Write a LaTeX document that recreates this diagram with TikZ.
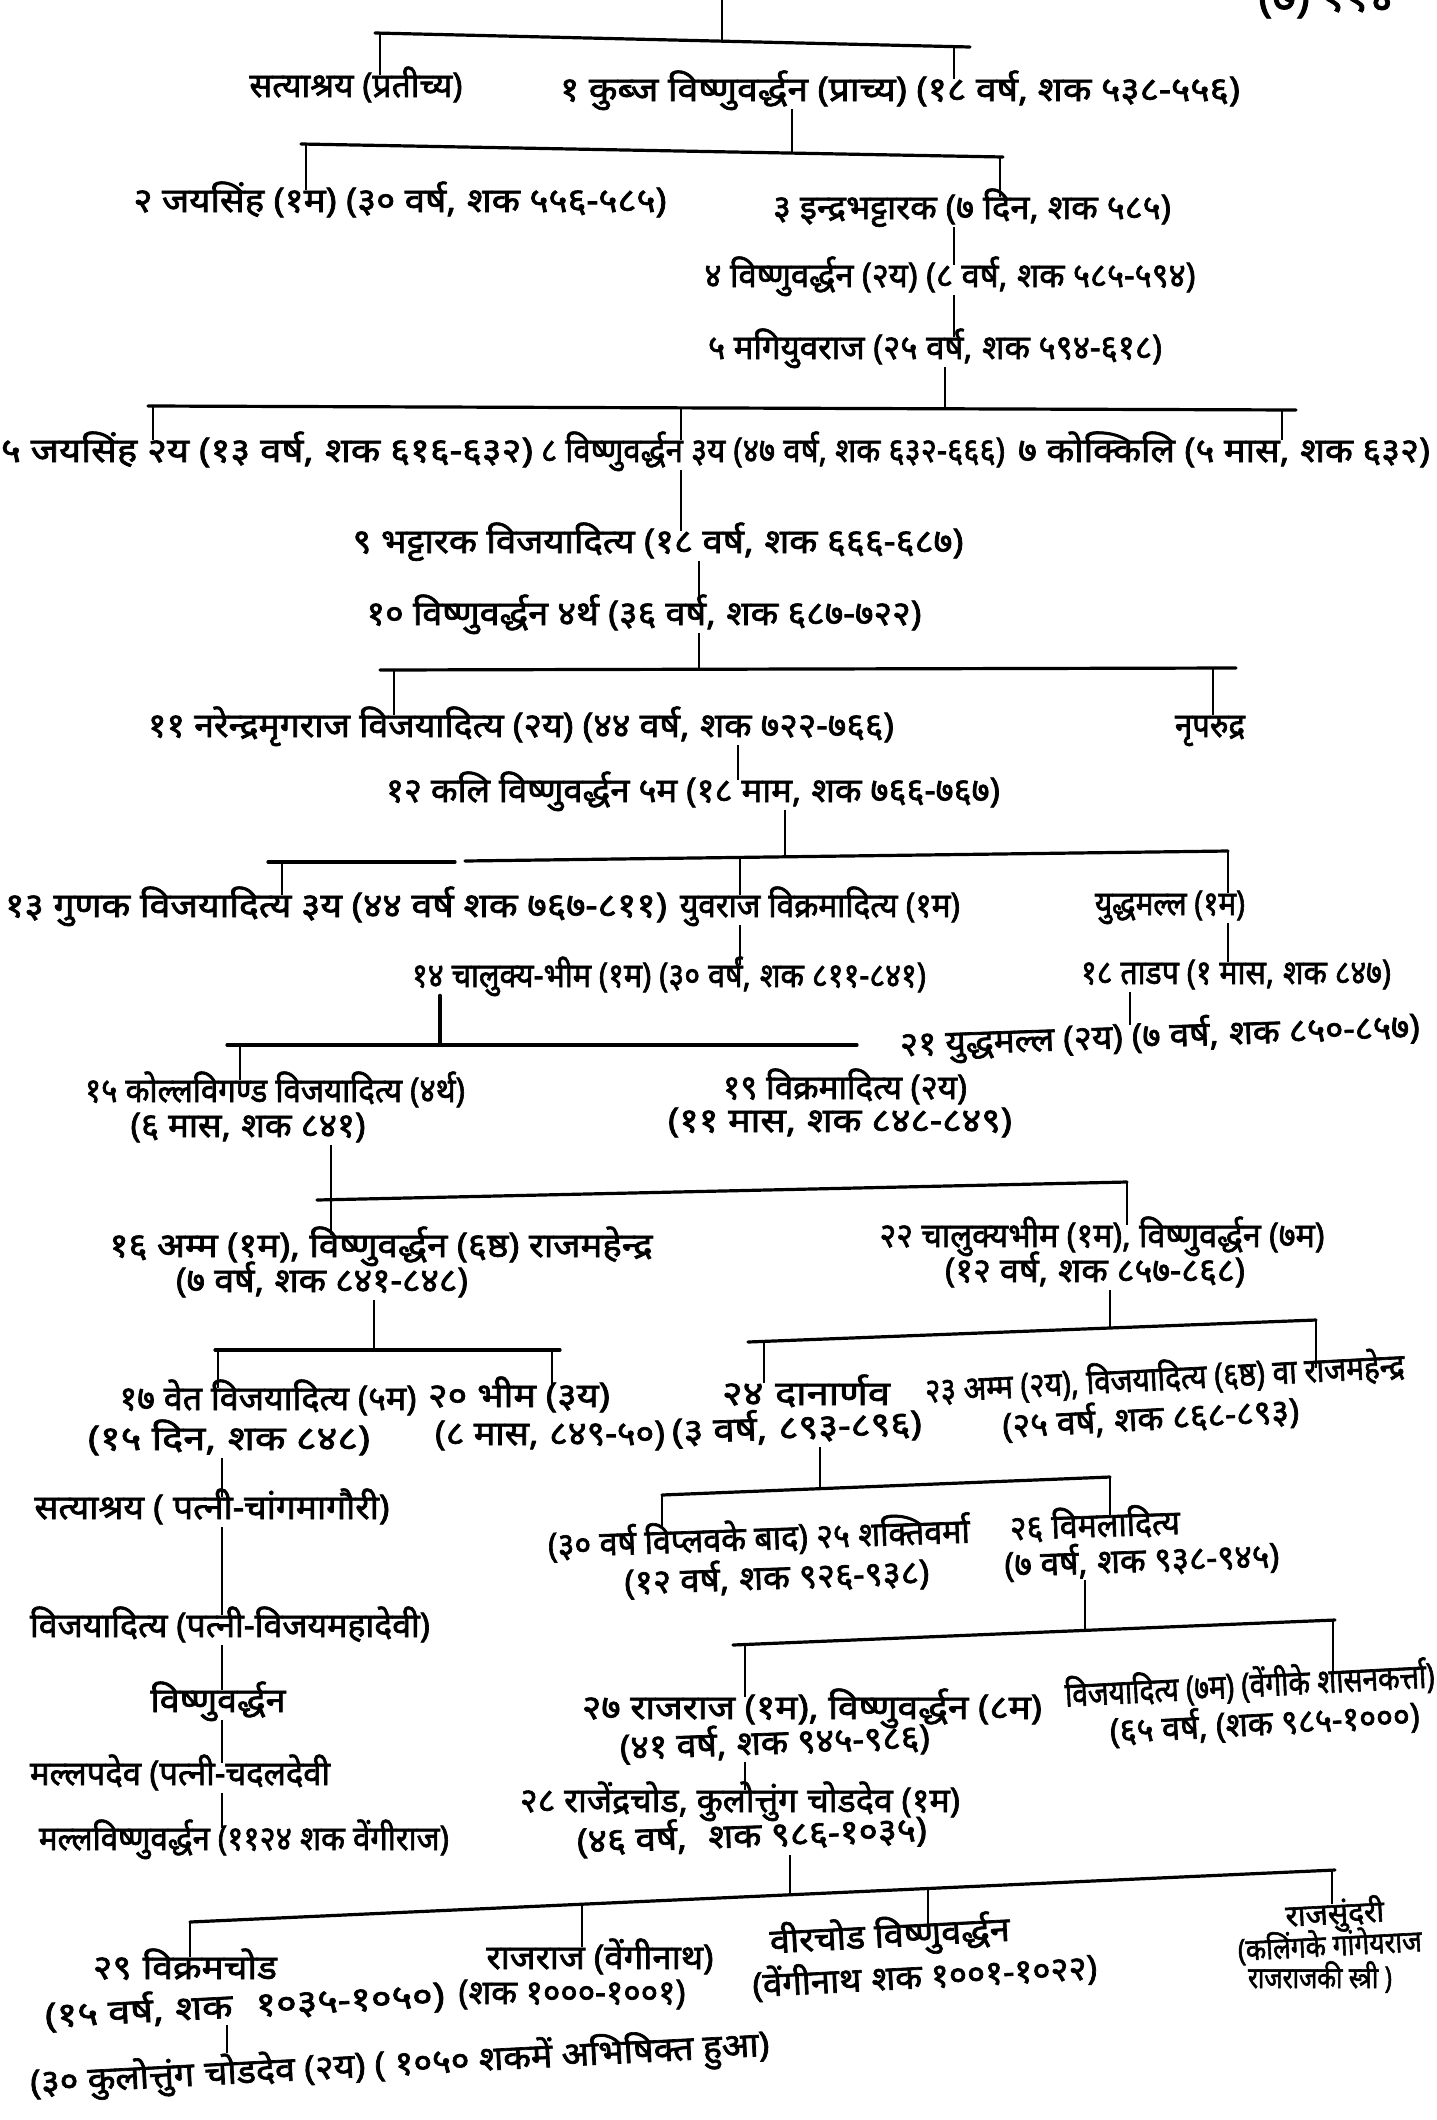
\documentclass[tikz,border=0pt]{standalone}
\usepackage{fontspec}
\usepackage{graphicx}
\newfontfamily\dev[Script=Devanagari,FakeBold=2]{Noto Sans}
\newcommand\fw[2]{\resizebox{#1pt}{\height}{#2}}
\newcommand\gp{\hspace{5pt}}
\begin{document}
\begin{tikzpicture}[x=0.5pt,y=-0.5pt,
  lbl/.style={font=\dev\fontsize{17}{20}\selectfont, inner sep=0pt, text height=11pt, text depth=4pt},
  sml/.style={font=\dev\fontsize{15}{18}\selectfont, inner sep=0pt, text height=10pt, text depth=4pt},
  bar/.style={line width=1.6pt, line cap=round},
  ln/.style={line width=0.9pt}]
\useasboundingbox (0,0) rectangle (1436,2120);
\fill[white] (0,0) rectangle (1436,2120);
% ---------- labels
\node[lbl,font=\dev\fontsize{23}{26}\selectfont] (t0) at (1326,4) {(७) ११४};
\node[lbl] (n1a) at (356,90) {\fw{106.5}{सत्याश्रय (प्रतीच्य)}};
\node[lbl] (n1b) at (900,94) {\fw{340}{१ कुब्ज विष्णुवर्द्धन (प्राच्य) (१८ वर्ष, शक ५३८-५५६)}};
\node[lbl] (n2a) at (400,205) {\fw{266.5}{२ जयसिंह (१म) (३० वर्ष,\gp शक ५५६-५८५)}};
\node[lbl] (n2b) at (972,212) {\fw{199}{३ इन्द्रभट्टारक (७ दिन, शक ५८५)}};
\node[lbl] (n3) at (950,280) {\fw{245.5}{४ विष्णुवर्द्धन (२य) (८ वर्ष,\gp शक ५८५-५९४)}};
\node[lbl] (n4) at (935,352) {\fw{227}{५ मगियुवराज (२५ वर्ष,\gp शक ५९४-६१८)}};
\node[lbl] (n5a) at (267,455) {\fw{266}{५ जयसिंह २य (१३ वर्ष,\gp शक ६१६-६३२)}};
\node[lbl] (n5b) at (773,455) {\fw{232}{८ विष्णुवर्द्धन ३य (४७ वर्ष, शक ६३२-६६६)}};
\node[lbl] (n5c) at (1224,455) {\fw{206}{७ कोक्किलि (५ मास,\gp शक ६३२)}};
\node[lbl] (n6) at (658,546) {\fw{305.5}{९ भट्टारक विजयादित्य (१८ वर्ष,\gp शक ६६६-६८७)}};
\node[lbl] (n7) at (644,618) {\fw{277.5}{१० विष्णुवर्द्धन ४र्थ (३६ वर्ष,\gp शक ६८७-७२२)}};
\node[lbl] (n8a) at (521,730) {\fw{373}{११ नरेन्द्रमृगराज विजयादित्य (२य) (४४ वर्ष,\gp शक ७२२-७६६)}};
\node[lbl] (n8b) at (1210,730) {\fw{35}{नृपरुद्र}};
\node[lbl] (n9) at (693,795) {\fw{307}{१२ कलि विष्णुवर्द्धन ५म (१८ माम,\gp शक ७६६-७६७)}};
\node[lbl] (n10a) at (336,910) {\fw{331}{१३ गुणक विजयादित्य ३य (४४ वर्ष शक ७६७-८११)}};
\node[lbl] (n10b) at (820,910) {\fw{140}{युवराज विक्रमादित्य (१म)}};
\node[lbl] (n10c) at (1170,908) {\fw{75}{युद्धमल्ल (१म)}};
\node[lbl] (n11a) at (669,980) {\fw{257}{१४ चालुक्य-भीम (१म) (३० वर्ष,\gp शक ८११-८४१)}};
\node[lbl] (n11b) at (1236,977) {\fw{155}{१८ ताडप (१ मास,\gp शक ८४७)}};
\node[lbl,rotate=2] (n21) at (1160,1040) {\fw{260}{२१ युद्धमल्ल (२य) (७ वर्ष,\gp शक ८५०-८५७)}};
\node[lbl] (n12a1) at (275,1095) {\fw{190}{१५ कोल्लविगण्ड विजयादित्य (४र्थ)}};
\node[lbl] (n12a2) at (248,1130) {\fw{117.5}{(६ मास,\gp शक ८४१)}};
\node[lbl] (n12b1) at (845,1092) {\fw{122}{१९ विक्रमादित्य (२य)}};
\node[lbl] (n12b2) at (840,1125) {\fw{172}{(११ मास,\gp शक ८४८-८४९)}};
\node[lbl] (n13a1) at (381,1250) {\fw{271.5}{१६ अम्म (१म), विष्णुवर्द्धन (६ष्ठ) राजमहेन्द्र}};
\node[lbl] (n13a2) at (322,1285) {\fw{146}{(७ वर्ष,\gp शक ८४१-८४८)}};
\node[lbl] (n13b1) at (1102,1240) {\fw{222.5}{२२ चालुक्यभीम (१म), विष्णुवर्द्धन (७म)}};
\node[lbl] (n13b2) at (1095,1275) {\fw{150}{(१२ वर्ष,\gp शक ८५७-८६८)}};
\node[lbl] (n14a1) at (268,1403) {\fw{148.5}{१७ वेत विजयादित्य (५म)}};
\node[lbl] (n14b1) at (519,1400) {\fw{91}{२० भीम (३य)}};
\node[lbl] (n14c1) at (806,1398) {\fw{84}{२४\gp दानार्णव}};
\node[lbl,rotate=3] (n14d1) at (1165,1383) {\fw{240}{२३ अम्म (२य), विजयादित्य (६ष्ठ) वा राजमहेन्द्र}};
\node[lbl] (n14a2) at (229,1443) {\fw{141}{(१५ दिन,\gp शक ८४८)}};
\node[lbl] (n14b2) at (550,1438) {\fw{115}{(८ मास,\gp ८४९-५०)}};
\node[lbl,rotate=2] (n14c2) at (797,1432) {\fw{125}{(३ वर्ष,\gp ८९३-८९६)}};
\node[lbl,rotate=3] (n14d2) at (1151,1423) {\fw{148.5}{(२५ वर्ष,\gp शक ८६८-८९३)}};
\node[lbl] (n15) at (212,1512) {\fw{177.5}{सत्याश्रय ( पत्नी-चांगमागौरी)}};
\node[lbl,rotate=2] (n16a1) at (759,1543) {\fw{211}{(३० वर्ष विप्लवके बाद) २५ शक्तिवर्मा}};
\node[lbl,rotate=2] (n16a2) at (777,1582) {\fw{152.5}{(१२ वर्ष,\gp शक ९२६-९३८)}};
\node[lbl,rotate=2] (n16b1) at (1095,1530) {\fw{85}{२६ विमलादित्य}};
\node[lbl,rotate=2] (n16b2) at (1142,1565) {\fw{137.5}{(७ वर्ष,\gp शक ९३८-९४५)}};
\node[lbl] (n17) at (230,1630) {\fw{200}{विजयादित्य (पत्नी-विजयमहादेवी)}};
\node[lbl] (n18) at (218,1705) {\fw{67.5}{विष्णुवर्द्धन}};
\node[lbl] (n18a1) at (812,1712) {\fw{230}{२७ राजराज (१म), विष्णुवर्द्धन (८म)}};
\node[lbl,rotate=3] (n18b1) at (1250,1690) {\fw{185}{विजयादित्य (७म) (वेंगीके शासनकर्त्ता)}};
\node[lbl,rotate=2] (n18a2) at (775,1747) {\fw{155}{(४१ वर्ष,\gp शक ९४५-९८६)}};
\node[lbl,rotate=3] (n18b2) at (1265,1728) {\fw{155}{(६५ वर्ष, (शक ९८५-१०००)}};
\node[lbl] (n19) at (180,1778) {\fw{150}{मल्लपदेव (पत्नी-चदलदेवी}};
\node[lbl] (n19a1) at (740,1805) {\fw{220}{२८ राजेंद्रचोड, कुलोत्तुंग\gp चोडदेव (१म)}};
\node[lbl,rotate=2] (n19a2) at (752,1840) {\fw{175}{(४६ वर्ष,\gp\gp शक ९८६-१०३५)}};
\node[lbl] (n20) at (244,1843) {\fw{205}{मल्लविष्णुवर्द्धन (११२४ शक वेंगीराज)}};
\node[lbl] (n21a1) at (185,1972) {\fw{92}{२९\gp विक्रमचोड}};
\node[lbl,rotate=3] (n21a2) at (245,2010) {\fw{200}{(१५ वर्ष,\gp शक\gp\gp १०३५-१०५०)}};
\node[lbl] (n21b1) at (600,1962) {\fw{113.5}{राजराज (वेंगीनाथ)}};
\node[lbl] (n21b2) at (572,1997) {\fw{113.5}{(शक १०००-१००१)}};
\node[lbl,rotate=3] (n21c1) at (890,1940) {\fw{120}{वीरचोड विष्णुवर्द्धन}};
\node[lbl,rotate=3] (n21c2) at (925,1981) {\fw{172.5}{(वेंगीनाथ\gp शक १००१-१०२२)}};
\node[sml,rotate=3] (n21d1) at (1335,1918) {राजसुंदरी};
\node[sml,rotate=3] (n21d2) at (1330,1950) {\fw{92}{(कलिंगके गांगेयराज}};
\node[sml] (n21d3) at (1320,1982) {\fw{72}{राजराजकी स्त्री )}};
\node[lbl,rotate=3] (n22) at (400,2068) {\fw{370}{(३० कुलोत्तुंग\gp चोडदेव (२य) ( १०५० शकमें अभिषिक्त हुआ)}};
% ---------- junction coordinates
\coordinate (A0) at (722,0);   \coordinate (Aj) at (722,41);
\coordinate (Al) at (375,33);  \coordinate (Ar) at (970,47);
\coordinate (Ad1) at (380,33); \coordinate (Ad2) at (954,47);
\coordinate (Bj) at (792,153); \coordinate (Bl) at (301,144); \coordinate (Br) at (1003,157);
\coordinate (Bd1) at (306,144); \coordinate (Bd2) at (1000,157);
\coordinate (X954) at (954,0);
\coordinate (Cj) at (945,409); \coordinate (Cl) at (148,406); \coordinate (Cr) at (1296,410);
\coordinate (Cd1) at (153,406); \coordinate (Cd2) at (681,408); \coordinate (Cd3) at (1282,410);
\coordinate (X681) at (681,0); \coordinate (X699) at (699,0);
\coordinate (Dj) at (699,669); \coordinate (Dl) at (380,670); \coordinate (Dr) at (1236,668);
\coordinate (Dd1) at (394,670); \coordinate (Dd2) at (1213,668);
\coordinate (X738) at (738,0);
\coordinate (El1) at (268,862); \coordinate (Er1) at (455,862);
\coordinate (El2) at (465,861); \coordinate (Er2) at (1228,851);
\coordinate (Ej) at (785,857); \coordinate (Ed1) at (282,862); \coordinate (Ed2) at (740,858); \coordinate (Ed3) at (1228,851);
\coordinate (X740) at (740,0); \coordinate (X1228) at (1228,0); \coordinate (X1130) at (1130,0);
\coordinate (Fl) at (227,1045); \coordinate (Fr) at (857,1045); \coordinate (Fj) at (440,1045); \coordinate (Fd1) at (240,1045);
\coordinate (Gl) at (317,1200); \coordinate (Gr) at (1127,1182); \coordinate (Gj) at (331,1200);
\coordinate (Hl) at (215,1350); \coordinate (Hr) at (560,1350); \coordinate (Hj) at (374,1350);
\coordinate (Hd1) at (218,1350); \coordinate (Hd2) at (552,1350);
\coordinate (Il) at (748,1342); \coordinate (Ir) at (1316,1320); \coordinate (Ij) at (1110,1328);
\coordinate (Id1) at (764,1341);
\coordinate (X222) at (222,0);
\coordinate (Jl) at (662,1495); \coordinate (Jr) at (1110,1477); \coordinate (Jj) at (820,1489);
\coordinate (Kl) at (733,1645); \coordinate (Kr) at (1335,1620); \coordinate (Kj) at (1085,1630);
\coordinate (Kd1) at (745,1645); \coordinate (Kd2) at (1333,1620);
\coordinate (X745) at (745,0);
\coordinate (Ll) at (190,1922); \coordinate (Lr) at (1335,1870); \coordinate (Lj) at (790,1895);
\coordinate (Ld2) at (582,1904); \coordinate (Ld3) at (928,1888); \coordinate (Ld4) at (1332,1870);
\coordinate (X227) at (227,0);
% ---------- bars
\draw[bar] (Al) -- (Ar);
\draw[bar] (Bl) -- (Br);
\draw[bar] (Cl) -- (Cr);
\draw[bar] (Dl) -- (Dr);
\draw[bar] (El1) -- (Er1);
\draw[bar] (El2) -- (Er2);
\draw[bar] (Fl) -- (Fr);
\draw[bar] (Gl) -- (Gr);
\draw[bar] (Hl) -- (Hr);
\draw[bar] (Il) -- (Ir);
\draw[bar] (Jl) -- (Jr);
\draw[bar] (Kl) -- (Kr);
\draw[bar] (Ll) -- (Lr);
% ---------- stems and drops
\draw[ln] (A0) -- (Aj);
\draw[ln] (Ad1) -- (Ad1 |- n1a.north);
\draw[ln] (Ad2) -- (Ad2 |- n1b.north);
\draw[ln] (n1b.south -| Bj) -- (Bj);
\draw[ln] (Bd1) -- (Bd1 |- n2a.north);
\draw[ln] (Bd2) -- (Bd2 |- n2b.north);
\draw[ln] (n2b.south -| X954) -- (n3.north -| X954);
\draw[ln] (n3.south -| X954) -- (n4.north -| X954);
\draw[ln] (n4.south -| Cj) -- (Cj);
\draw[ln] (Cd1) -- (Cd1 |- n5a.north);
\draw[ln] (Cd2) -- (Cd2 |- n5b.north);
\draw[ln] (Cd3) -- (Cd3 |- n5c.north);
\draw[ln] (n5b.south -| X681) -- (n6.north -| X681);
\draw[ln] (n6.south -| X699) -- (n7.north -| X699);
\draw[ln] (n7.south -| Dj) -- (Dj);
\draw[ln] (Dd1) -- (Dd1 |- n8a.north);
\draw[ln] (Dd2) -- (Dd2 |- n8b.north);
\draw[ln] (n8a.south -| X738) -- (n9.north -| X738);
\draw[ln] (n9.south -| Ej) -- (Ej);
\draw[ln] (Ed1) -- (Ed1 |- n10a.north);
\draw[ln] (Ed2) -- (Ed2 |- n10b.north);
\draw[ln] (Ed3) -- (Ed3 |- n10c.north);
\draw[ln] (n10b.south -| X740) -- (n11a.north -| X740);
\draw[ln] (n10c.south -| X1228) -- (n11b.north -| X1228);
\draw[bar] (n11a.south -| Fj) -- (Fj);
\draw[ln] (n11b.south -| X1130) -- (n21.north -| X1130);
\draw[ln] (Fd1) -- (Fd1 |- n12a1.north);
\draw[ln] (n12a2.south -| Gj) -- (Gj);
\draw[ln] (Gj) -- (Gj |- n13a1.north);
\draw[ln] (Gr) -- (Gr |- n13b1.north);
\draw[ln] (n13a2.south -| Hj) -- (Hj);
\draw[ln] (Hd1) -- (Hd1 |- n14a1.north);
\draw[ln] (Hd2) -- (Hd2 |- n14b1.north);
\draw[ln] (n13b2.south -| Ij) -- (Ij);
\draw[ln] (Id1) -- (Id1 |- n14c1.north);
\draw[ln] (Ir) -- (Ir |- n14d1.north);
\draw[ln] (n14a2.south -| X222) -- (n15.north -| X222);
\draw[ln] (n14c2.south -| Jj) -- (Jj);
\draw[ln] (Jl) -- (Jl |- n16a1.north);
\draw[ln] (Jr) -- (Jr |- n16b1.north);
\draw[ln] (n15.south -| X222) -- (n17.north -| X222);
\draw[ln] (n16b2.south -| Kj) -- (Kj);
\draw[ln] (Kd1) -- (Kd1 |- n18a1.north);
\draw[ln] (Kd2) -- (Kd2 |- n18b1.north);
\draw[ln] (n17.south -| X222) -- (n18.north -| X222);
\draw[ln] (n18.south -| X222) -- (n19.north -| X222);
\draw[ln] (n19.south -| X222) -- (n20.north -| X222);
\draw[ln] (n18a2.south -| X745) -- (n19a1.north -| X745);
\draw[ln] (n19a2.south -| Lj) -- (Lj);
\draw[ln] (Ll) -- (Ll |- n21a1.north);
\draw[ln] (Ld2) -- (Ld2 |- n21b1.north);
\draw[ln] (Ld3) -- (Ld3 |- n21c1.north);
\draw[ln] (Ld4) -- (Ld4 |- n21d1.north);
\draw[ln] (n21a2.south -| X227) -- (n22.north -| X227);
\end{tikzpicture}
\end{document}
